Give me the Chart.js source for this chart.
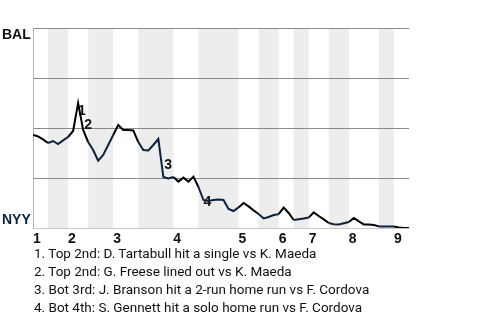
<!DOCTYPE html>
<html lang="en">
<head>
    <meta charset="UTF-8">
    <title>Win Probability</title>
    <script src="https://cdn.jsdelivr.net/npm/chart.js"></script>
    <style>
body {
    margin: 0;
    padding: 0;
    background: white;
    width: 480px;
    height: 320px;
    position: relative;
    overflow: hidden;
}

#wpChart {
    position: absolute;
    left: 0;
    top: 0;
}

#plays {
    position: absolute;
    left: 34px;
    top: 244px;
    font-family: Roboto, sans-serif;
    font-size: 13.5px;
    line-height: 18px;
    color: #111;
}
    </style>
</head>
<body>

    <canvas id="wpChart" width="480" height="248"></canvas>
    <div id="plays"></div>

    <script>
        // home win probability (BAL) after each play, 0 = NYY, 100 = BAL
        const winProb = [46.5, 45.8, 44.3, 42.5, 43.5, 42, 43.8, 45.5, 48.5, 62.5,
                         49, 43, 39, 33.7, 36.5, 41.5, 46.5, 51.5, 49, 49,
                         48.8, 43, 39, 38.8, 41.5, 44.5, 25.5, 24.8, 25.5, 23.2,
                         25.2, 23.2, 25.7, 20.5, 14, 13.5, 14, 14.3, 14, 9.5,
                         8.5, 10.3, 12.5, 10.8, 8.8, 7, 4.8, 5.5, 6.5, 6.9,
                         10.2, 7.5, 4, 4.4, 4.8, 5.2, 7.8, 6, 4.3, 2.5,
                         1.9, 1.8, 2.4, 3, 5, 3.3, 1.8, 1.8, 1.5, 0.8,
                         0.7, 0.7, 0.7, 0.3, 0, 0];

        // play index where each half inning starts (last one = end of data)
        const halfStarts = [0, 3, 7, 11, 16, 21, 28, 33, 41, 45, 49, 52, 55, 59, 63, 69, 72, 75];
        const inningLabels = ["1", "2", "3", "4", "5", "6", "7", "8", "9"];
        const teamLabels = ["BAL", "NYY"];

        const keyPlayIndex = [9, 10, 26, 34];
        const keyPlayMarks = ["1", "2", "3", "4"];
        const keyPlays = [
            "1. Top 2nd: D. Tartabull hit a single vs K. Maeda",
            "2. Top 2nd: G. Freese lined out vs K. Maeda",
            "3. Bot 3rd: J. Branson hit a 2-run home run vs F. Cordova",
            "4. Bot 4th: S. Gennett hit a solo home run vs F. Cordova"
        ];

        const NAVY = "#0c2340";

        document.getElementById("plays").innerHTML = keyPlays.map(t => "<div>" + t + "</div>").join("");

        function halfOf(i) {
            let h = 0;
            while (h < halfStarts.length - 2 && halfStarts[h + 1] <= i) h++;
            return h;
        }

        const inningStarts = halfStarts.filter((v, i) => i % 2 === 0 && i < halfStarts.length - 1);

        const bandsPlugin = {
            id: "bands",
            beforeDraw(chart) {
                const ctx = chart.ctx, area = chart.chartArea, x = chart.scales.x;
                ctx.save();
                ctx.fillStyle = "#ededed";
                for (let h = 1; h < halfStarts.length - 1; h += 2) {
                    const x0 = x.getPixelForValue(halfStarts[h]);
                    const x1 = x.getPixelForValue(halfStarts[h + 1]);
                    ctx.fillRect(x0, area.top, x1 - x0, area.bottom - area.top);
                }
                ctx.restore();
            }
        };

        // small offsets so the numbers sit next to the line
        const markOffsets = [[0, 8], [1, -5], [1, -12], [0, 2]];

        const labelsPlugin = {
            id: "labels",
            // marks go under the line, like the original
            beforeDatasetsDraw(chart) {
                const ctx = chart.ctx;
                const x = chart.scales.x, y = chart.scales.y;
                ctx.save();
                ctx.font = "bold 14px 'Liberation Sans', Arial, sans-serif";
                ctx.textBaseline = "middle";
                ctx.textAlign = "left";
                ctx.fillStyle = "#111";
                keyPlayIndex.forEach((idx, i) => {
                    const px = x.getPixelForValue(idx) + markOffsets[i][0];
                    const py = y.getPixelForValue(winProb[idx]) + markOffsets[i][1];
                    ctx.fillText(keyPlayMarks[i], px, py);
                });
                ctx.restore();
            },
            afterDatasetsDraw(chart) {
                const ctx = chart.ctx, area = chart.chartArea;
                ctx.save();
                ctx.font = "bold 14px 'Liberation Sans', Arial, sans-serif";
                ctx.textBaseline = "middle";
                ctx.textAlign = "left";
                ctx.fillStyle = "#111";
                ctx.fillText(teamLabels[0], 2, area.top + 7);
                ctx.fillStyle = NAVY;
                ctx.fillText(teamLabels[1], 2, area.bottom - 8);
                ctx.restore();
            }
        };

        new Chart(document.getElementById("wpChart").getContext("2d"), {
            type: "line",
            data: {
                datasets: [{
                    data: winProb.map((v, i) => ({ x: i, y: v })),
                    borderColor: "#000",
                    borderWidth: 2,
                    pointRadius: 0,
                    tension: 0,
                    fill: false,
                    segment: {
                        borderColor: c => (halfOf(c.p0DataIndex) % 2 === 1 ? NAVY : "#000")
                    }
                }]
            },
            options: {
                responsive: false,
                animation: false,
                devicePixelRatio: 1,
                layout: { padding: { top: 28, right: 71, left: 0, bottom: 0 } },
                plugins: {
                    legend: { display: false },
                    tooltip: { enabled: false }
                },
                scales: {
                    x: {
                        type: "linear",
                        min: 0,
                        max: halfStarts[halfStarts.length - 1],
                        afterBuildTicks: s => { s.ticks = inningStarts.map(v => ({ value: v })); },
                        afterFit: s => { s.height = 20; },
                        grid: { display: false, drawTicks: false },
                        border: { color: "#c8c8c8" },
                        ticks: {
                            autoSkip: false,
                            maxRotation: 0,
                            align: "start",
                            padding: 3,
                            color: "#111",
                            font: { family: "'Liberation Sans', Arial, sans-serif", size: 14, weight: "bold" },
                            callback: (v, i) => inningLabels[i]
                        }
                    },
                    y: {
                        min: 0,
                        max: 100,
                        afterFit: s => { s.width = 33; },
                        grid: {
                            drawTicks: false,
                            color: c => (c.tick.value === 0 ? "rgba(0,0,0,0)" : "#8a8a8a")
                        },
                        border: { color: "#b4b4b4" },
                        ticks: { stepSize: 25, display: false }
                    }
                }
            },
            plugins: [bandsPlugin, labelsPlugin]
        });
    </script>
</body>
</html>
